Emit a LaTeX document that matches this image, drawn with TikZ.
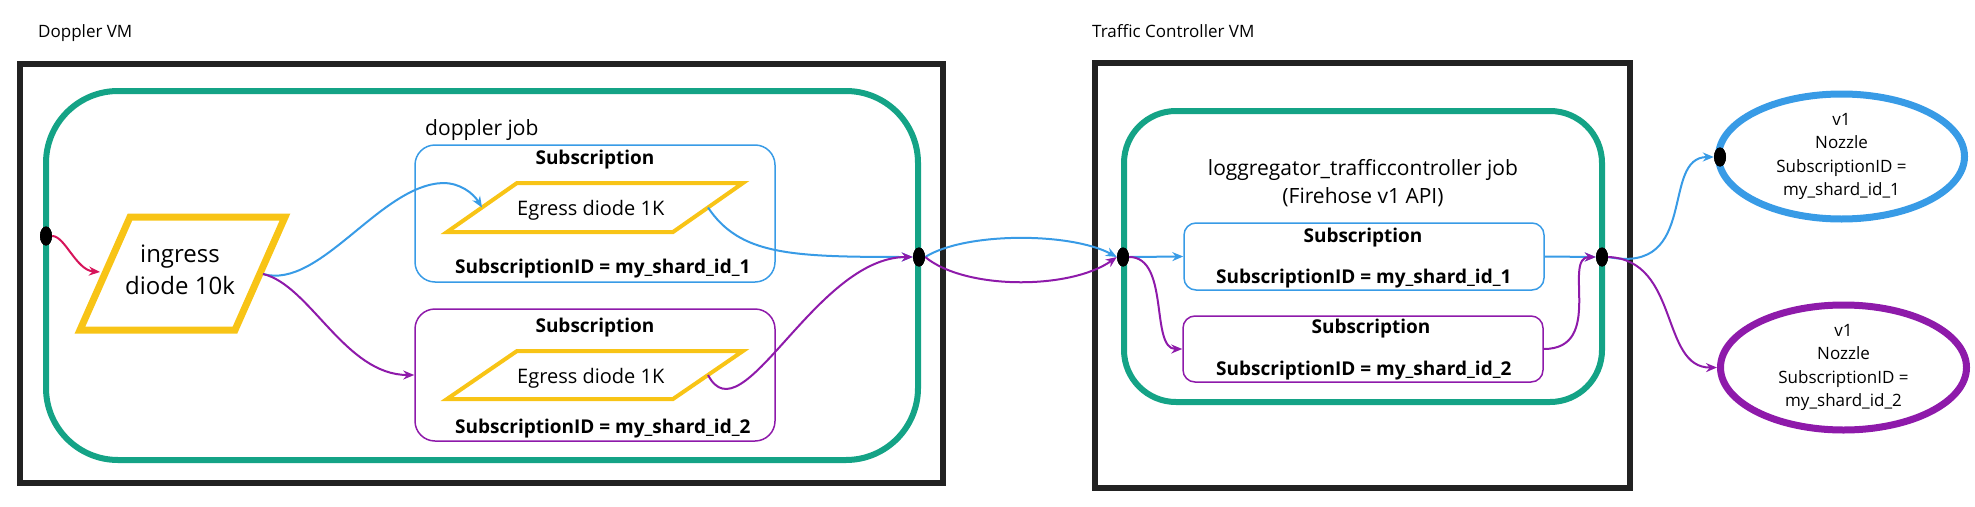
\documentclass[tikz,border=0pt]{standalone}
\usepackage{fontspec}
\setmainfont{Open Sans}
\usetikzlibrary{arrows.meta,shapes.geometric}
\definecolor{tealjob}{RGB}{20,163,134}
\definecolor{framec}{RGB}{34,34,34}
\definecolor{diodec}{RGB}{248,196,22}
\definecolor{sblue}{RGB}{56,155,230}
\definecolor{spurple}{RGB}{142,26,170}
\definecolor{sred}{RGB}{214,20,90}
\begin{document}
\begin{tikzpicture}[x=1pt,y=-1pt,
  vmbox/.style={draw=framec,line width=6pt,inner sep=0pt,rectangle},
  jobbox/.style={draw=tealjob,line width=6pt,inner sep=0pt,rectangle},
  subbox/.style={draw=#1,line width=1.5pt,inner sep=0pt,rectangle,rounded corners=20pt},
  diodeline/.style={draw=diodec,line join=miter},
  dotnode/.style={ellipse,fill=black,minimum width=12pt,minimum height=19pt,inner sep=0pt},
  flow/.style={draw=#1,line width=2pt,-{Stealth[length=11pt,width=9pt]}},
  plainlbl/.style={inner sep=0pt,font=\fontsize{17}{23.6}\selectfont},
  joblbl/.style={inner sep=0pt,font=\fontsize{21}{28}\selectfont,align=center},
  boldlbl/.style={inner sep=0pt,font=\fontsize{19}{23}\selectfont\bfseries},
  egresslbl/.style={inner sep=0pt,font=\fontsize{20}{24}\selectfont},
  nozzle/.style={ellipse,draw=#1,line width=7pt,inner sep=0pt,minimum width=246pt,minimum height=125pt,align=center,font=\fontsize{17}{23.6}\selectfont}
]
\useasboundingbox (0,0) rectangle (1975,506);

% VM frames
\node[vmbox,minimum width=923pt,minimum height=419pt] (vm1) at (481.5,273.5) {};
\node[vmbox,minimum width=535pt,minimum height=425pt] (vm2) at (1362.5,275.5) {};
\node[plainlbl,anchor=base west] (vm1lbl) at (38,37) {Doppler VM};
\node[plainlbl,anchor=base west] (vm2lbl) at (1092,37) {Traffic Controller VM};

% job boxes
\node[jobbox,rounded corners=72pt,minimum width=872pt,minimum height=369pt] (job1) at (482,275.5) {};
\node[jobbox,rounded corners=52pt,minimum width=478pt,minimum height=291pt] (job2) at (1363,256.5) {};
\node[joblbl,anchor=base west] (job1lbl) at (425,135) {doppler job};
\node[joblbl] (job2lbl) at (1363,183.5) {loggregator\_trafficcontroller job\\(Firehose v1 API)};

% subscription boxes (doppler)
\node[subbox=sblue,minimum width=360pt,minimum height=137pt] (d1) at (595,213.5) {};
\node[subbox=spurple,minimum width=360pt,minimum height=132pt] (d2) at (595,375) {};
\node[boldlbl,anchor=base] (d1t) at (595,164) {Subscription};
\node[boldlbl,anchor=base] (d2t) at (595,332) {Subscription};
\node[boldlbl,anchor=base west] (d1id) at (455,273) {SubscriptionID = my\_shard\_id\_1};
\node[boldlbl,anchor=base west] (d2id) at (455,433) {SubscriptionID = my\_shard\_id\_2};

% subscription boxes (traffic controller)
\node[subbox=sblue,rounded corners=12pt,minimum width=360pt,minimum height=67pt] (t1) at (1364,256.5) {};
\node[subbox=spurple,rounded corners=12pt,minimum width=360pt,minimum height=66pt] (t2) at (1363,349) {};
\node[boldlbl,anchor=base] (t1t) at (1363,242) {Subscription};
\node[boldlbl,anchor=base] (t2t) at (1371,333) {Subscription};
\node[boldlbl,anchor=base west] (t1id) at (1216,283) {SubscriptionID = my\_shard\_id\_1};
\node[boldlbl,anchor=base west] (t2id) at (1216,375) {SubscriptionID = my\_shard\_id\_2};

% ingress diode
\draw[diodeline,line width=7pt] (130,217) -- (285,217) -- (235,330) -- (80,330) -- cycle;
\node[inner sep=0pt,align=center,font=\fontsize{24}{32}\selectfont] (ingress) at (180,270) {ingress\\diode 10k};
\coordinate (ingW) at (100,272);
\coordinate (ingE) at (263,274);

% egress diodes
\draw[diodeline,line width=4pt] (517,183) -- (743,183) -- (673,232) -- (447,232) -- cycle;
\draw[diodeline,line width=4pt] (517,351) -- (743,351) -- (673,399) -- (447,399) -- cycle;
\node[egresslbl,anchor=base west] (eg1) at (517,215) {Egress diode 1K};
\node[egresslbl,anchor=base west] (eg2) at (517,383) {Egress diode 1K};
\coordinate (e1W) at (482,207.5);
\coordinate (e1E) at (708,207.5);
\coordinate (e2E) at (708,375);

% nozzles
\node[nozzle=sblue] (nz1) at (1841.5,156.5) {v1\\Nozzle\\SubscriptionID =\\my\_shard\_id\_1};
\node[nozzle=spurple] (nz2) at (1843.5,367.5) {v1\\Nozzle\\SubscriptionID =\\my\_shard\_id\_2};

% dots (positions)
\node[dotnode] (dA) at (46,236) {};
\node[dotnode] (dB) at (919,257) {};
\node[dotnode] (dC) at (1123,257) {};
\node[dotnode] (dD) at (1602,257) {};
\node[dotnode] (dE) at (1720,157) {};

% connectors
\draw[flow=sred] (dA.east) .. controls (65,236) and (76,270) .. (ingW);
\draw[flow=sblue] (ingE) .. controls (320,290) and (380,185) .. (443,183) .. controls (460,183) and (473,193) .. (e1W);
\draw[flow=spurple] (ingE) .. controls (310,285) and (345,375) .. (d2.west);
\draw[flow=sblue] (e1E) .. controls (740,255) and (790,257) .. (dB.west);
\draw[flow=spurple] (e2E) .. controls (742,440) and (815,257) .. (dB.west);
\draw[flow=sblue] (dB.east) .. controls (965,232) and (1070,232) .. (dC.west);
\draw[flow=spurple] (dB.east) .. controls (965,290) and (1070,290) .. (dC.west);
\draw[flow=sblue] (dC.east) -- (t1.west);
\draw[flow=spurple] (dC.east) .. controls (1170,257) and (1150,349) .. (t2.west);
\draw[flow=sblue] (t1.east) -- (dD.west);
\draw[flow=spurple] (t2.east) .. controls (1605,349) and (1562,257) .. (dD.west);
\draw[flow=sblue] (dD.east) .. controls (1700,275) and (1660,157) .. (dE.west);
\draw[flow=spurple] (dD.east) .. controls (1680,260) and (1660,368) .. (nz2.west);

% redraw dots on top
\node[dotnode] at (dA) {};
\node[dotnode] at (dB) {};
\node[dotnode] at (dC) {};
\node[dotnode] at (dD) {};
\node[dotnode] at (dE) {};
\end{tikzpicture}
\end{document}
